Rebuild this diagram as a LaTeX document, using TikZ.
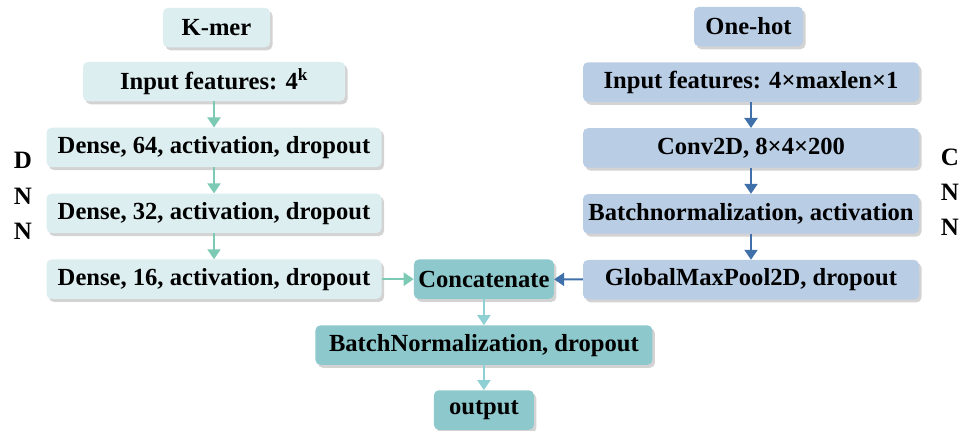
\documentclass[tikz,border=0pt]{standalone}
\usepackage{fontspec}
\setmainfont{Liberation Serif}
\usetikzlibrary{arrows.meta,positioning,shadows}
\definecolor{kmerfill}{HTML}{DDEEF0}
\definecolor{onehotfill}{HTML}{B9CDE5}
\definecolor{mergefill}{HTML}{8CC8CC}
\definecolor{kmerarr}{HTML}{7CCAB4}
\definecolor{onehotarr}{HTML}{3F70AA}
\definecolor{mergearr}{HTML}{8FD0D4}
\tikzset{
  box style/.style={rectangle, rounded corners=5pt, minimum height=39.5pt, inner sep=2pt, align=center,
    font=\fontsize{24.6}{28}\selectfont\bfseries,
    drop shadow={shadow xshift=2.5pt, shadow yshift=-3pt, opacity=0.35}},
  kmer style/.style={box style, fill=kmerfill},
  onehot style/.style={box style, fill=onehotfill},
  merge style/.style={box style, fill=mergefill},
  arr style/.style={-{Triangle[length=10pt,width=13pt]}, line width=2.2pt},
  side style/.style={font=\fontsize{25}{28}\selectfont\bfseries, inner sep=0pt}
}
\begin{document}
\begin{tikzpicture}[x=1pt, y=1pt, node distance=26pt]
\useasboundingbox (0,0) rectangle (959,-431);
% K-mer branch (DNN)
\node[kmer style, minimum width=107pt] (kmer) at (216.5,-27.5) {K-mer};
\node[kmer style, minimum width=262pt] (kin) at (214,-81.5) {Input features: 4\textsuperscript{k}};
\node[kmer style, minimum width=335pt, below=of kin] (d64) {Dense, 64, activation, dropout};
\node[kmer style, minimum width=335pt, below=of d64] (d32) {Dense, 32, activation, dropout};
\node[kmer style, minimum width=335pt, below=of d32] (d16) {Dense, 16, activation, dropout};
% One-hot branch (CNN)
\node[onehot style, minimum width=109pt] (onehot) at (748.5,-26.5) {One-hot};
\node[onehot style, minimum width=336pt] (oin) at (751,-82) {Input features: 4×maxlen×1};
\node[onehot style, minimum width=336pt, below=of oin] (conv) {Conv2D, 8×4×200};
\node[onehot style, minimum width=336pt, below=of conv] (bact) {Batchnormalization, activation};
\node[onehot style, minimum width=336pt, below=of bact] (gmp) {GlobalMaxPool2D, dropout};
% merged part
\node[merge style, minimum width=140pt, right=32pt of d16] (concat) {Concatenate};
\node[merge style, minimum width=337pt, below=of concat] (bnd) {BatchNormalization, dropout};
\node[merge style, minimum width=100pt, below=25pt of bnd] (out) {output};
% side letters
\node[side style] (dl1) at (23,-160) {D};
\node[side style] (dl2) at (23,-196) {N};
\node[side style] (dl3) at (23,-231) {N};
\node[side style] (cl1) at (950,-157) {C};
\node[side style] (cl2) at (950,-192) {N};
\node[side style] (cl3) at (950,-227) {N};
% arrows
\draw[arr style, kmerarr] (kin)--(d64);
\draw[arr style, kmerarr] (d64)--(d32);
\draw[arr style, kmerarr] (d32)--(d16);
\draw[arr style, kmerarr] (d16)--(concat);
\draw[arr style, onehotarr] (oin)--(conv);
\draw[arr style, onehotarr] (conv)--(bact);
\draw[arr style, onehotarr] (bact)--(gmp);
\draw[arr style, onehotarr] (gmp)--(concat);
\draw[arr style, mergearr] (concat)--(bnd);
\draw[arr style, mergearr] (bnd)--(out);
\end{tikzpicture}
\end{document}
